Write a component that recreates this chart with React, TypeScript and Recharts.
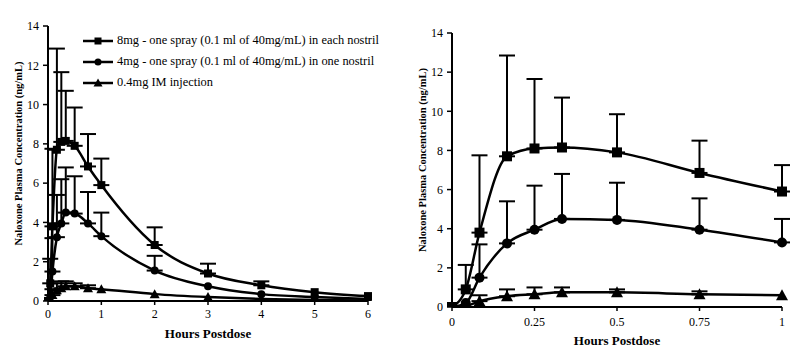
import React from "react";
import { LineChart, Line, XAxis, YAxis, ErrorBar, Legend, Label } from "recharts";

// hours after dose
const hours = [0, 0.0417, 0.0833, 0.1667, 0.25, 0.3333, 0.5, 0.75, 1, 2, 3, 4, 5, 6];

// mean concentrations (ng/mL) and top of the SD bar
const mean8mg = [0, 0.9, 3.8, 7.7, 8.1, 8.15, 7.9, 6.85, 5.9, 2.85, 1.4, 0.8, 0.45, 0.25];
const upper8mg = [null, 2.15, 7.75, 12.85, 11.65, 10.7, 9.85, 8.5, 7.25, 3.75, 1.9, 1.0, null, null];
const mean4mg = [0, 0.2, 1.5, 3.25, 3.95, 4.5, 4.45, 3.95, 3.3, 1.55, 0.75, 0.35, 0.2, 0.1];
const upper4mg = [null, null, 3.2, 5.4, 6.2, 6.8, 6.35, 5.55, 4.5, 2.3, null, null, null, null];
const meanIM = [0, 0.05, 0.3, 0.55, 0.65, 0.75, 0.75, 0.65, 0.6, 0.35, 0.2, 0.1, 0.05, 0.03];
const upperIM = [null, null, 0.6, 0.9, 1.0, 1.0, 0.9, 0.8, null, null, null, null, null, null];

const yTicks = [0, 2, 4, 6, 8, 10, 12, 14];
const xTicksLeft = [0, 1, 2, 3, 4, 5, 6];
const xTicksRight = [0, 0.25, 0.5, 0.75, 1];

const legendNames = [
  "8mg - one spray (0.1 ml of 40mg/mL) in each nostril",
  "4mg - one spray (0.1 ml of 40mg/mL) in one nostril",
  "0.4mg IM injection",
];

const FONT = "'Liberation Serif', 'DejaVu Serif', serif";

const err = (m: number, u: number | null) => (u == null ? null : [0, +(u - m).toFixed(3)]);

const allData = hours.map((h, i) => ({
  h,
  s8: mean8mg[i],
  e8: err(mean8mg[i], upper8mg[i]),
  s4: mean4mg[i],
  e4: err(mean4mg[i], upper4mg[i]),
  im: meanIM[i],
  eim: err(meanIM[i], upperIM[i]),
}));
const earlyData = allData.filter((d) => d.h <= 1);

// ─── markers ────────────────────────────────────────────────────────────────

function Marker({ kind, cx, cy, size = 8 }: { kind: string; cx: number; cy: number; size?: number }) {
  const r = size / 2;
  if (kind === "square")
    return <rect x={cx - r} y={cy - r} width={size} height={size} fill="#000" />;
  if (kind === "circle") return <circle cx={cx} cy={cy} r={r} fill="#000" />;
  return (
    <polygon
      points={`${cx},${cy - r - 1} ${cx - r - 1},${cy + r} ${cx + r + 1},${cy + r}`}
      fill="#000"
    />
  );
}

const dotFn = (kind: string, size: number) => (p: any) => {
  if (p.cx == null || p.cy == null) return <g key={p.index} />;
  return (
    <g key={p.index}>
      <Marker kind={kind} cx={p.cx} cy={p.cy} size={size} />
    </g>
  );
};

// ─── legend ─────────────────────────────────────────────────────────────────

function LegendBox() {
  const kinds = ["square", "circle", "triangle"];
  return (
    <div style={{ fontFamily: FONT, fontSize: 12.4, color: "#000" }}>
      {legendNames.map((name, i) => (
        <div key={name} style={{ display: "flex", alignItems: "center", height: 21 }}>
          <svg width={32} height={12} style={{ marginRight: 3 }}>
            <line x1={1} y1={6} x2={31} y2={6} stroke="#000" strokeWidth={2.5} />
            <Marker kind={kinds[i]} cx={16} cy={6} size={7} />
          </svg>
          <span style={{ whiteSpace: "nowrap" }}>{name}</span>
        </div>
      ))}
    </div>
  );
}

// ─── one panel ──────────────────────────────────────────────────────────────

function Panel({
  data,
  width,
  xMax,
  xTicks,
  margin,
  yAxisWidth,
  xTickMargin,
  yLabelX,
  xLabelY,
  showLegend,
  markerSize,
}: any) {
  const tick = { fontFamily: FONT, fontSize: 12, fill: "#000" };
  return (
    <LineChart width={width} height={353} data={data} margin={margin}>
      <XAxis
        dataKey="h"
        type="number"
        domain={[0, xMax]}
        ticks={xTicks}
        tick={tick}
        tickSize={4}
        tickMargin={xTickMargin}
        axisLine={{ stroke: "#000", strokeWidth: 2 }}
        tickLine={{ stroke: "#000", strokeWidth: 1.5 }}
        height={30}
      >
        <Label
          content={({ viewBox }: any) => (
            <text
              x={viewBox.x + viewBox.width / 2}
              y={xLabelY}
              textAnchor="middle"
              fontFamily={FONT}
              fontWeight="bold"
              fontSize={13}
              fill="#000"
            >
              Hours Postdose
            </text>
          )}
        />
      </XAxis>
      <YAxis
        type="number"
        domain={[0, 14]}
        ticks={yTicks}
        tick={tick}
        tickSize={5}
        tickMargin={4}
        width={yAxisWidth}
        axisLine={{ stroke: "#000", strokeWidth: 2 }}
        tickLine={{ stroke: "#000", strokeWidth: 1.5 }}
        allowDataOverflow
      >
        <Label
          content={({ viewBox }: any) => {
            const cx = yLabelX;
            const cy = viewBox.y + viewBox.height / 2 - 10;
            return (
              <text
                x={cx}
                y={cy}
                transform={`rotate(-90 ${cx} ${cy})`}
                textAnchor="middle"
                dominantBaseline="central"
                fontFamily={FONT}
                fontWeight="bold"
                fontSize={10.5}
                fill="#000"
              >
                Naloxone Plasma Concentration (ng/mL)
              </text>
            );
          }}
        />
      </YAxis>
      {showLegend && (
        <Legend
          layout="vertical"
          align="center"
          verticalAlign="middle"
          content={<LegendBox />}
          wrapperStyle={{ top: 30, left: 82, width: 320 }}
        />
      )}
      <Line
        dataKey="im"
        type="monotone"
        stroke="#000"
        strokeWidth={2.5}
        dot={dotFn("triangle", markerSize)}
        isAnimationActive={false}
        legendType="none"
      >
        <ErrorBar dataKey="eim" direction="y" width={8} stroke="#000" strokeWidth={2} />
      </Line>
      <Line
        dataKey="s4"
        type="monotone"
        stroke="#000"
        strokeWidth={2.5}
        dot={dotFn("circle", markerSize)}
        isAnimationActive={false}
        legendType="none"
      >
        <ErrorBar dataKey="e4" direction="y" width={8} stroke="#000" strokeWidth={2} />
      </Line>
      <Line
        dataKey="s8"
        type="monotone"
        stroke="#000"
        strokeWidth={2.5}
        dot={dotFn("square", markerSize)}
        isAnimationActive={false}
        legendType="none"
      >
        <ErrorBar dataKey="e8" direction="y" width={8} stroke="#000" strokeWidth={2} />
      </Line>
    </LineChart>
  );
}

export default function App() {
  return (
    <div
      style={{
        position: "absolute",
        left: 0,
        top: 0,
        width: 803,
        height: 353,
        background: "#fff",
        display: "flex",
      }}
    >
      <Panel
        data={allData}
        width={400}
        xMax={6}
        xTicks={xTicksLeft}
        margin={{ top: 26, right: 32, left: 0, bottom: 22 }}
        yAxisWidth={48}
        xTickMargin={4}
        yLabelX={18}
        xLabelY={338}
        showLegend
        markerSize={8}
      />
      <Panel
        data={earlyData}
        width={403}
        xMax={1}
        xTicks={xTicksRight}
        margin={{ top: 33, right: 21, left: 0, bottom: 16 }}
        yAxisWidth={52}
        xTickMargin={6}
        yLabelX={22}
        xLabelY={345}
        showLegend={false}
        markerSize={10}
      />
    </div>
  );
}
